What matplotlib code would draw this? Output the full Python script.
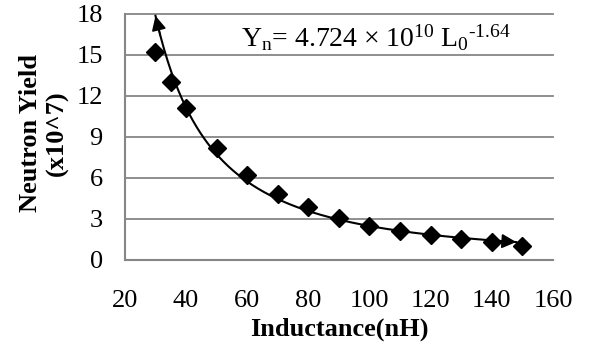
import numpy as np
import matplotlib.pyplot as plt

plt.rcParams['font.family'] = 'Liberation Serif'
plt.rcParams['mathtext.fontset'] = 'custom'
plt.rcParams['mathtext.rm'] = 'Liberation Serif'
plt.rcParams['mathtext.it'] = 'Liberation Serif'

# measured points
inductance = [30, 35, 40, 50, 60, 70, 80, 90, 100, 110, 120, 130, 140, 150]
neutron_yield = [15.2, 13.0, 11.1, 8.2, 6.2, 4.85, 3.9, 3.1, 2.5, 2.1, 1.8, 1.5, 1.3, 1.05]

# power-law trendline  Y = A * L^B  (in units of 1e7)
coef_a = 4.724e10
coef_b = -1.64
fit_start, fit_end = 30, 148

x_ticks = [20, 40, 60, 80, 100, 120, 140, 160]
y_ticks = [0, 3, 6, 9, 12, 15, 18]

fig = plt.figure(figsize=(5.92, 3.56), dpi=100)
ax = fig.add_axes([0.211, 0.270, 0.723, 0.691])

grey = '#868686'
for y in y_ticks[1:]:
    ax.axhline(y, color=grey, lw=1.3, zorder=0, clip_on=False)

Lfit = np.linspace(fit_start, fit_end, 300)
Yfit = coef_a * Lfit ** coef_b / 1e7
ax.plot(Lfit, Yfit, color='black', lw=1.5, zorder=2)
# arrow heads on both ends of the trendline
ax.annotate('', xy=(Lfit[0], Yfit[0]), xytext=(Lfit[4], Yfit[4]),
            arrowprops=dict(arrowstyle='-|>', color='black', lw=1.2, mutation_scale=22,
                            shrinkA=0, shrinkB=0), annotation_clip=False)
ax.annotate('', xy=(Lfit[-1], Yfit[-1]), xytext=(Lfit[-10], Yfit[-10]),
            arrowprops=dict(arrowstyle='-|>', color='black', lw=1.2, mutation_scale=22,
                            shrinkA=0, shrinkB=0), annotation_clip=False)

ax.plot(inductance, neutron_yield, linestyle='none', marker='D', markersize=9.5,
        color='black', zorder=3, clip_on=False)

ax.set_xlim(20, 160)
ax.set_ylim(0, 18)
ax.set_xticks(x_ticks)
ax.set_yticks(y_ticks)
ax.tick_params(axis='both', length=0, labelsize=19)
ax.tick_params(axis='x', pad=22)
ax.tick_params(axis='y', pad=16)

for s in ['top', 'right']:
    ax.spines[s].set_visible(False)
for s in ['left', 'bottom']:
    ax.spines[s].set_color(grey)
    ax.spines[s].set_linewidth(1.5)

ax.set_xlabel('Inductance(nH)', fontsize=19, fontweight='bold', labelpad=4)
fig.text(44 / 592, 1 - 133 / 356, 'Neutron Yield\n(x10^7)', rotation=90,
         ha='center', va='center', fontsize=19, fontweight='bold', linespacing=1.15)

ax.text(0.586, 0.965, r'$\mathregular{Y_n}$= 4.724 × 10$^{\mathregular{10}}$ L$_{\mathregular{0}}$$^{\text{-1.64}}$',
        transform=ax.transAxes, ha='center', va='top', fontsize=20)

fig.savefig('out.png', dpi=100)
